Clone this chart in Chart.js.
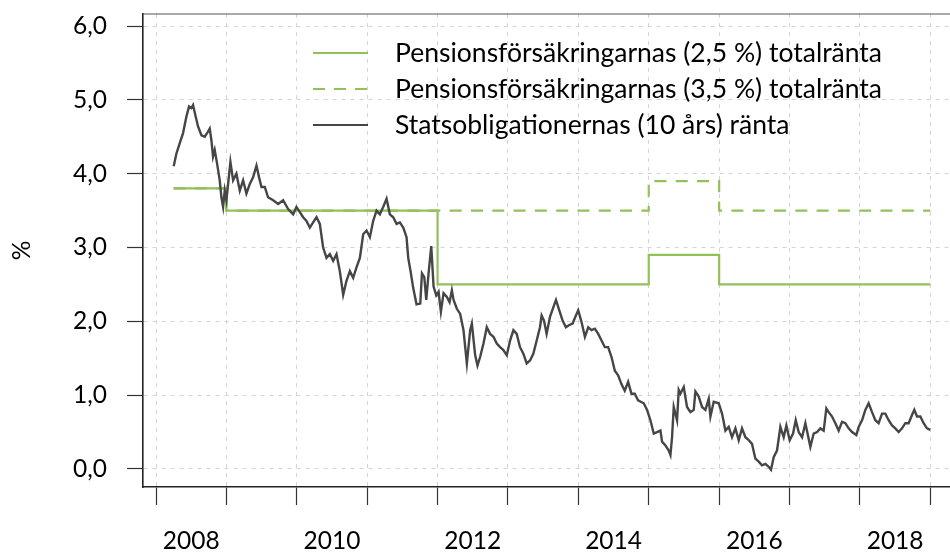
<!DOCTYPE html>
<html>
<head>
<meta charset="utf-8">
<script src="https://cdn.jsdelivr.net/npm/chart.js@4.4.1/dist/chart.umd.min.js"></script>
<style>
  html, body { margin: 0; padding: 0; overflow: hidden; background: #fff; }
  #wrap { width: 1000px; height: 554px; }
</style>
</head>
<body>
<div id="wrap"><canvas id="chart" width="1000" height="554"></canvas></div>
<script>
// data
const seriesLabels = [
  'Pensionsförsäkringarnas (2,5 %) totalränta',
  'Pensionsförsäkringarnas (3,5 %) totalränta',
  'Statsobligationernas (10 års) ränta'
];

const stepYears = [2008.25, 2009, 2012, 2015, 2016, 2019];
const pension25 = [3.8, 3.5, 2.5, 2.9, 2.5, 2.5];
const pension35 = [3.8, 3.5, 3.5, 3.9, 3.5, 3.5];

const bondYears = [
  2008.251, 2008.289, 2008.336, 2008.384, 2008.431, 2008.469, 2008.502, 2008.526, 2008.564, 2008.597,
  2008.645, 2008.692, 2008.739, 2008.763, 2008.787, 2008.810, 2008.834, 2008.867, 2008.905, 2008.929,
  2008.953, 2008.976, 2009.000, 2009.024, 2009.057, 2009.095, 2009.142, 2009.190, 2009.237, 2009.284,
  2009.332, 2009.379, 2009.427, 2009.464, 2009.498, 2009.545, 2009.592, 2009.664, 2009.735, 2009.806,
  2009.877, 2009.948, 2009.995, 2010.043, 2010.090, 2010.137, 2010.185, 2010.232, 2010.280, 2010.327,
  2010.374, 2010.422, 2010.469, 2010.517, 2010.564, 2010.611, 2010.659, 2010.706, 2010.754, 2010.801,
  2010.848, 2010.896, 2010.943, 2010.991, 2011.038, 2011.085, 2011.133, 2011.180, 2011.227, 2011.275,
  2011.322, 2011.370, 2011.417, 2011.464, 2011.512, 2011.559, 2011.583, 2011.616, 2011.654, 2011.701,
  2011.754, 2011.778, 2011.811, 2011.839, 2011.872, 2011.910, 2011.943, 2011.981, 2012.014, 2012.047,
  2012.085, 2012.132, 2012.170, 2012.203, 2012.227, 2012.274, 2012.321, 2012.368, 2012.416, 2012.463,
  2012.487, 2012.534, 2012.567, 2012.605, 2012.652, 2012.699, 2012.746, 2012.794, 2012.841, 2012.888,
  2012.935, 2012.983, 2013.030, 2013.077, 2013.124, 2013.171, 2013.219, 2013.266, 2013.313, 2013.360,
  2013.408, 2013.455, 2013.478, 2013.512, 2013.549, 2013.597, 2013.644, 2013.682, 2013.729, 2013.776,
  2013.823, 2013.871, 2013.918, 2013.965, 2013.998, 2014.045, 2014.093, 2014.140, 2014.187, 2014.234,
  2014.282, 2014.329, 2014.376, 2014.423, 2014.470, 2014.518, 2014.565, 2014.612, 2014.659, 2014.707,
  2014.754, 2014.801, 2014.848, 2014.929, 2014.976, 2015.024, 2015.071, 2015.118, 2015.166, 2015.189,
  2015.237, 2015.284, 2015.308, 2015.331, 2015.355, 2015.402, 2015.426, 2015.450, 2015.497, 2015.544,
  2015.592, 2015.639, 2015.663, 2015.710, 2015.757, 2015.805, 2015.852, 2015.876, 2015.923, 2015.994,
  2016.041, 2016.089, 2016.136, 2016.183, 2016.231, 2016.278, 2016.325, 2016.373, 2016.420, 2016.467,
  2016.515, 2016.562, 2016.609, 2016.657, 2016.704, 2016.737, 2016.775, 2016.822, 2016.870, 2016.917,
  2016.955, 2017.002, 2017.050, 2017.088, 2017.130, 2017.178, 2017.225, 2017.296, 2017.343, 2017.391,
  2017.438, 2017.485, 2017.523, 2017.556, 2017.604, 2017.651, 2017.698, 2017.746, 2017.793, 2017.840,
  2017.888, 2017.949, 2017.982, 2018.030, 2018.077, 2018.124, 2018.172, 2018.219, 2018.266, 2018.314,
  2018.361, 2018.408, 2018.456, 2018.503, 2018.550, 2018.598, 2018.645, 2018.692, 2018.740, 2018.773,
  2018.811, 2018.858, 2018.905, 2018.953, 2019.000
];
const bondValues = [
  4.10, 4.27, 4.41, 4.55, 4.77, 4.91, 4.89, 4.93, 4.77, 4.64,
  4.52, 4.50, 4.57, 4.61, 4.45, 4.23, 4.32, 4.14, 3.91, 3.68,
  3.55, 3.77, 3.64, 3.86, 4.16, 3.91, 4.00, 3.77, 3.91, 3.73,
  3.86, 3.95, 4.11, 3.95, 3.82, 3.82, 3.68, 3.64, 3.59, 3.64,
  3.52, 3.45, 3.55, 3.48, 3.41, 3.36, 3.27, 3.34, 3.41, 3.32,
  3.00, 2.86, 2.91, 2.82, 2.91, 2.68, 2.36, 2.55, 2.68, 2.59,
  2.73, 2.86, 3.18, 3.23, 3.14, 3.36, 3.50, 3.45, 3.55, 3.66,
  3.45, 3.41, 3.32, 3.34, 3.27, 3.14, 2.86, 2.68, 2.45, 2.23,
  2.24, 2.65, 2.60, 2.29, 2.65, 3.02, 2.47, 2.35, 2.40, 2.13,
  2.38, 2.33, 2.26, 2.42, 2.29, 2.17, 2.10, 1.88, 1.43, 1.88,
  1.97, 1.54, 1.40, 1.52, 1.70, 1.92, 1.83, 1.79, 1.70, 1.65,
  1.61, 1.54, 1.74, 1.88, 1.83, 1.65, 1.56, 1.43, 1.47, 1.56,
  1.74, 1.92, 2.08, 2.01, 1.83, 2.06, 2.19, 2.29, 2.15, 2.01,
  1.92, 1.95, 1.97, 2.08, 2.15, 1.99, 1.79, 1.92, 1.88, 1.90,
  1.83, 1.74, 1.65, 1.65, 1.52, 1.33, 1.27, 1.15, 1.06, 1.18,
  1.02, 1.02, 0.93, 0.89, 0.80, 0.66, 0.48, 0.50, 0.52, 0.37,
  0.32, 0.25, 0.19, 0.43, 0.84, 0.66, 1.07, 1.02, 1.11, 0.84,
  0.77, 0.80, 1.05, 0.98, 0.84, 0.80, 0.95, 0.71, 0.91, 0.89,
  0.75, 0.52, 0.57, 0.43, 0.55, 0.39, 0.55, 0.43, 0.39, 0.34,
  0.14, 0.10, 0.05, 0.07, 0.03, -0.01, 0.16, 0.25, 0.57, 0.43,
  0.59, 0.39, 0.48, 0.66, 0.50, 0.43, 0.62, 0.30, 0.48, 0.50,
  0.55, 0.52, 0.82, 0.77, 0.71, 0.62, 0.52, 0.64, 0.62, 0.55,
  0.50, 0.46, 0.57, 0.66, 0.80, 0.89, 0.77, 0.66, 0.62, 0.75,
  0.75, 0.66, 0.59, 0.55, 0.50, 0.55, 0.62, 0.62, 0.73, 0.80,
  0.71, 0.71, 0.62, 0.55, 0.53
];

const yTicks = [0, 1, 2, 3, 4, 5, 6];
const yearTicks = [2008, 2009, 2010, 2011, 2012, 2013, 2014, 2015, 2016, 2017, 2018, 2019];
const yearLabels = [2008, 2010, 2012, 2014, 2016, 2018];

// styling
const green = '#94c05a';
const gray = '#464646';
const gridColor = '#d4d4d4';
const axisColor = '#333333';
const tickFont = { family: 'Lato', size: 24.5 };
const legendFont = { family: 'Lato', size: 26.5 };

const xMin = 2007.815, xMax = 2019.99;
const yMin = -0.244, yMax = 6.163;

function noPadding(s) {
  s.paddingTop = 0; s.paddingBottom = 0; s.paddingLeft = 0; s.paddingRight = 0;
}

const framePlugin = {
  id: 'frame',
  afterLayout(chart) {
    const a = chart.chartArea;
    chart.legend.left = a.left + 160.5;
    chart.legend.top = a.top + 16.25;
  },
  afterDraw(chart) {
    const a = chart.chartArea;
    const ctx = chart.ctx;
    ctx.save();
    ctx.strokeStyle = '#555';
    ctx.lineWidth = 1.2;
    ctx.beginPath();
    ctx.moveTo(a.left, a.top);
    ctx.lineTo(a.right, a.top);
    ctx.stroke();
    ctx.restore();
  }
};

new Chart(document.getElementById('chart'), {
  type: 'line',
  data: {
    datasets: [
      {
        label: seriesLabels[0],
        data: stepYears.map((x, i) => ({ x: x, y: pension25[i] })),
        borderColor: green, backgroundColor: green, borderWidth: 2.2,
        stepped: 'before', pointRadius: 0, order: 1,
        xAxisID: 'x', yAxisID: 'y'
      },
      {
        label: seriesLabels[1],
        data: stepYears.map((x, i) => ({ x: x, y: pension35[i] })),
        borderColor: green, backgroundColor: green, borderWidth: 2.2, borderDash: [12, 9.3],
        stepped: 'before', pointRadius: 0, order: 2,
        xAxisID: 'x', yAxisID: 'y'
      },
      {
        label: seriesLabels[2],
        data: bondYears.map((x, i) => ({ x: x, y: bondValues[i] })),
        borderColor: gray, backgroundColor: gray, borderWidth: 2.4,
        pointRadius: 0, tension: 0, order: 0,
        xAxisID: 'x', yAxisID: 'y'
      }
    ]
  },
  options: {
    responsive: false,
    animation: false,
    devicePixelRatio: 1,
    layout: { padding: { top: 14, left: 0, right: 0, bottom: 0 } },
    scales: {
      x: {
        type: 'linear', position: 'bottom', weight: 0,
        min: xMin, max: xMax,
        afterBuildTicks: s => { s.ticks = yearTicks.map(v => ({ value: v })); },
        afterFit: s => { s.height = 18; noPadding(s); },
        ticks: { display: false },
        grid: { color: gridColor, lineWidth: 1, drawTicks: true, tickLength: 18, tickColor: axisColor, tickWidth: 1.2, tickBorderDash: [] },
        border: { display: true, color: '#222', width: 1.6, dash: [4, 5] }
      },
      x2: {
        type: 'linear', position: 'bottom', weight: 1,
        min: xMin, max: xMax,
        afterBuildTicks: s => { s.ticks = yearLabels.map(v => ({ value: v + 0.5 })); },
        afterFit: s => { s.height = 49; noPadding(s); },
        grid: { display: false, drawTicks: false },
        border: { display: false },
        ticks: { color: '#000', font: tickFont, padding: 21, maxRotation: 0, autoSkip: false, callback: v => String(Math.floor(v)) }
      },
      y: {
        type: 'linear', position: 'left',
        min: yMin, max: yMax,
        afterBuildTicks: s => { s.ticks = yTicks.map(v => ({ value: v })); },
        afterFit: s => { s.width = 143; noPadding(s); },
        ticks: { color: '#000', font: tickFont, padding: 20, callback: v => v.toFixed(1).replace('.', ',') },
        grid: { color: gridColor, lineWidth: 1, drawTicks: true, tickLength: 16, tickColor: axisColor, tickWidth: 1.2, tickBorderDash: [] },
        border: { display: true, color: '#222', width: 1.6, dash: [4, 5] },
        title: { display: true, text: '%', color: '#000', font: tickFont, padding: { top: 7, bottom: 0 } }
      }
    },
    plugins: {
      tooltip: { enabled: false },
      legend: {
        position: 'chartArea',
        align: 'start',
        labels: {
          usePointStyle: true,
          pointStyle: 'line',
          pointStyleWidth: 68.75,
          padding: 9.5,
          color: '#000',
          font: legendFont,
          sort: (a, b) => a.datasetIndex - b.datasetIndex,
          generateLabels(chart) {
            const items = Chart.defaults.plugins.legend.labels.generateLabels(chart);
            items.forEach(it => {
              it.lineDash = it.datasetIndex === 1 ? [12, 9, 12, 9, 12, 40] : [55, 40];
              it.lineWidth = 2.2;
            });
            return items;
          }
        }
      }
    }
  },
  plugins: [framePlugin]
});
</script>
</body>
</html>
